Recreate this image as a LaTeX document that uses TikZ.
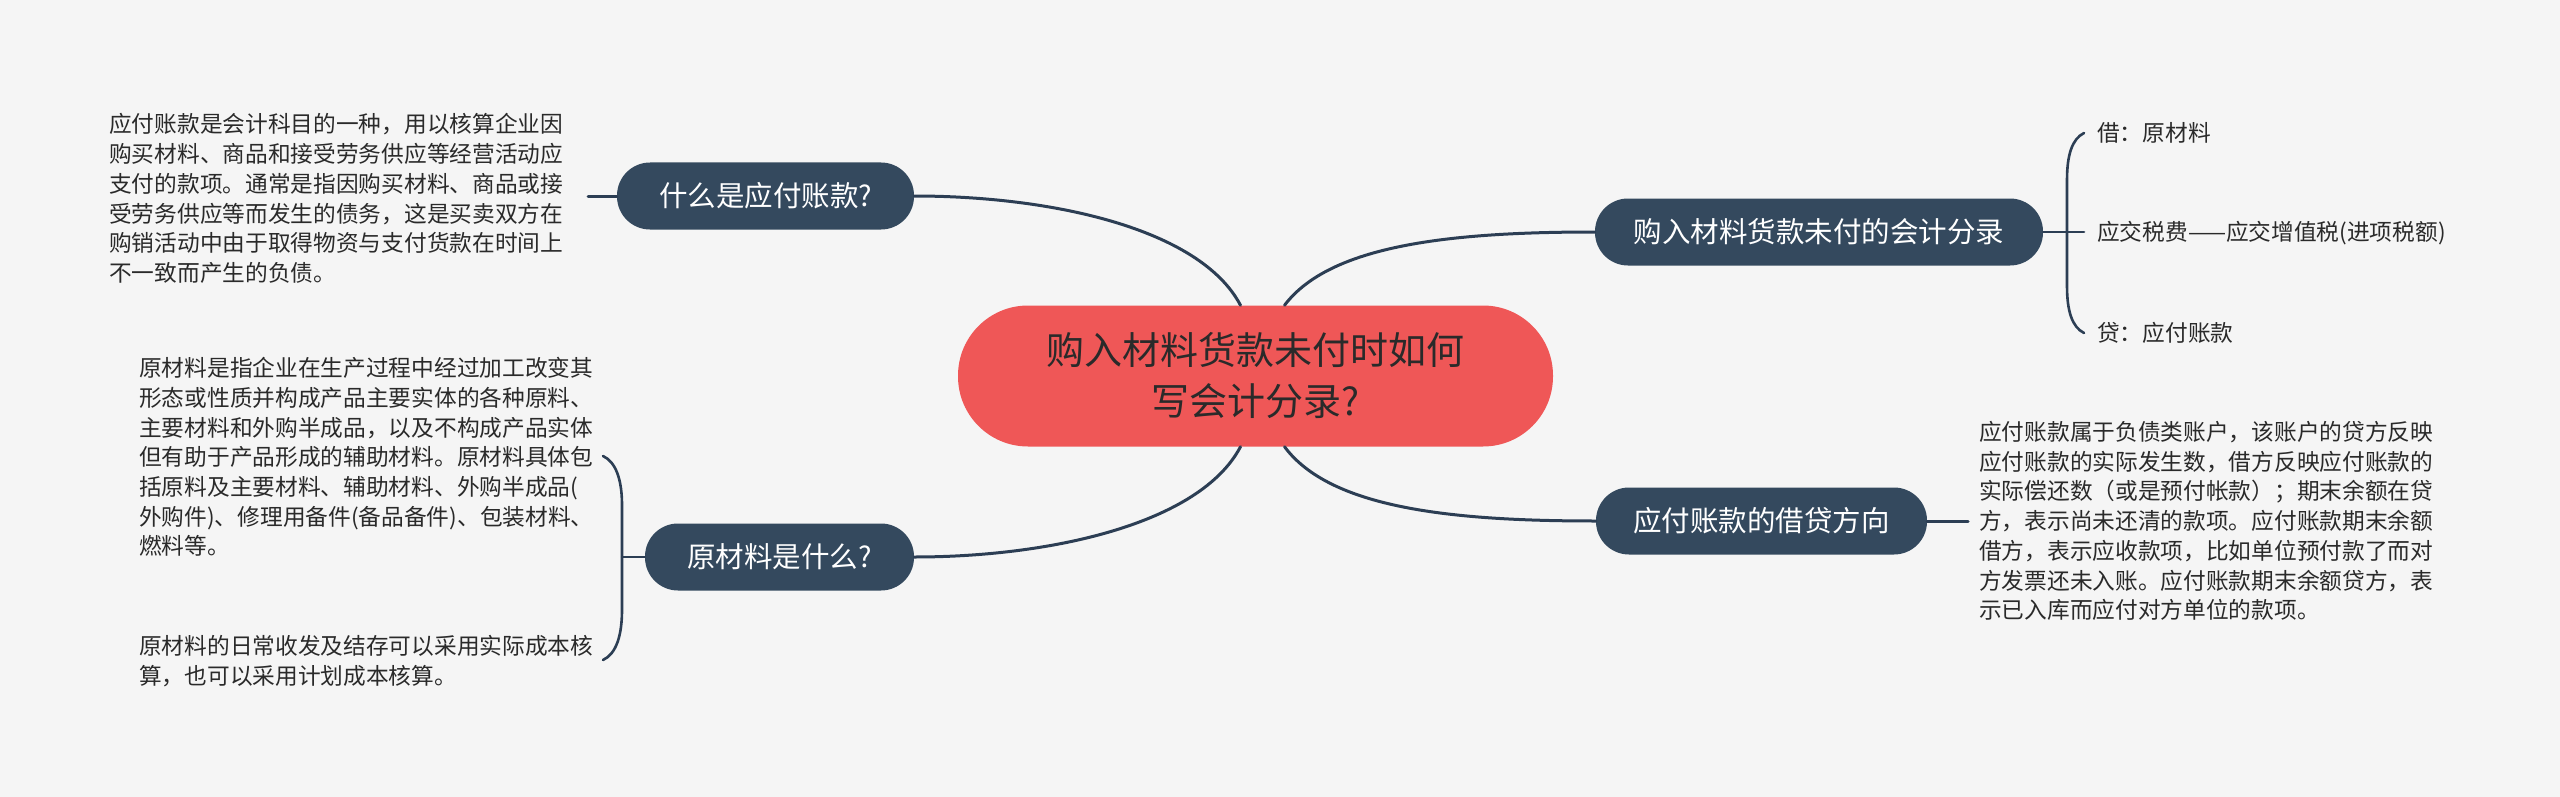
\documentclass[tikz,border=0pt]{standalone}
\usepackage{fontspec}
\setmainfont{Noto Sans CJK SC}
\definecolor{bgc}{HTML}{F5F5F5}
\definecolor{nodefill}{HTML}{34495E}
\definecolor{linec}{HTML}{2C3E54}
\definecolor{centerfill}{HTML}{EF5757}
\definecolor{txtc}{HTML}{2A2A2A}
\tikzset{
  branch/.style={fill=nodefill, text=white, rounded corners=33pt, minimum height=67pt, inner sep=0pt, font=\fontsize{28.5}{34}\selectfont},
  centre/.style={fill=centerfill, text=txtc, rounded corners=70pt, minimum height=141pt, minimum width=595pt, inner sep=0pt, align=center, font=\fontsize{38}{51}\selectfont},
  leaf/.style={text=txtc, inner sep=0pt, align=left, anchor=west, font=\fontsize{22.7}{29.7}\selectfont},
  conn/.style={draw=linec, line width=3pt, line cap=round},
  brk/.style={draw=linec, line width=2.6pt, line cap=round}
}
\begin{document}
\begin{tikzpicture}[x=1pt,y=-1pt]
\fill[bgc] (0,0) rectangle (2560,797);
\useasboundingbox (0,0) rectangle (2560,797);

% nodes
\node[centre] (c) at (1255.5,376) {购入材料货款未付时如何\\写会计分录?};
\node[branch, minimum width=297pt] (n1) at (765.5,196) {什么是应付账款?};
\node[branch, minimum width=269pt] (n2) at (779.5,557) {原材料是什么?};
\node[branch, minimum width=448pt] (n3) at (1819,232) {购入材料货款未付的会计分录};
\node[branch, minimum width=331pt] (n4) at (1761.5,521) {应付账款的借贷方向};

% leaves
\node[leaf] (t1) at (109,198.5) {应付账款是会计科目的一种，用以核算企业因\\购买材料、商品和接受劳务供应等经营活动应\\支付的款项。通常是指因购买材料、商品或接\\受劳务供应等而发生的债务，这是买卖双方在\\购销活动中由于取得物资与支付货款在时间上\\不一致而产生的负债。};
\node[leaf] (t2) at (139,457) {原材料是指企业在生产过程中经过加工改变其\\形态或性质并构成产品主要实体的各种原料、\\主要材料和外购半成品，以及不构成产品实体\\但有助于产品形成的辅助材料。原材料具体包\\括原料及主要材料、辅助材料、外购半成品(\\外购件)、修理用备件(备品备件)、包装材料、\\燃料等。};
\node[leaf] (t3) at (139,661) {原材料的日常收发及结存可以采用实际成本核\\算，也可以采用计划成本核算。};
\node[leaf] (r1) at (2097,133) {借：原材料};
\node[leaf] (r2) at (2097,233) {应交税费——应交增值税(进项税额)};
\node[leaf] (r3) at (2097,333) {贷：应付账款};
\node[leaf] (t4) at (1979,521) {应付账款属于负债类账户，该账户的贷方反映\\应付账款的实际发生数，借方反映应付账款的\\实际偿还数（或是预付帐款）；期末余额在贷\\方，表示尚未还清的款项。应付账款期末余额\\借方，表示应收款项，比如单位预付款了而对\\方发票还未入账。应付账款期末余额贷方，表\\示已入库而应付对方单位的款项。};

% coordinates for free ends
\coordinate (k1) at (588,196);
\coordinate (k4) at (1968,521);
\coordinate (ltick) at (622,557);
\coordinate (ltop) at (603,456);
\coordinate (lbot) at (603,660);
\coordinate (rtick) at (2084,232);
\coordinate (rtop) at (2084,133);
\coordinate (rbot) at (2084,333);

% main connectors
\draw[conn] ([xshift=-15pt]c.north) .. controls (1200,228) and (1050,196) .. (n1.east);
\draw[conn] ([xshift=29pt]c.north) .. controls (1330,245) and (1450,232) .. (n3.west);
\draw[conn] ([xshift=-15pt]c.south) .. controls (1200,524) and (1050,557) .. (n2.east);
\draw[conn] ([xshift=29pt]c.south) .. controls (1330,508) and (1450,521) .. (n4.west);

% leaf connectors
\draw[conn] (n1.west) -- (k1);
\draw[conn] (n4.east) -- (k4);
\draw[brk] (n2.west) -- (ltick);
\draw[brk] (ltop) .. controls (616,462) and (622,480) .. (622,505) -- (622,610) .. controls (622,636) and (616,654) .. (lbot);
\draw[brk] (n3.east) -- (rtick);
\draw[brk] (rtop) .. controls (2072,139) and (2067,155) .. (2067,180) -- (2067,286) .. controls (2067,311) and (2072,327) .. (rbot);
\end{tikzpicture}
\end{document}
